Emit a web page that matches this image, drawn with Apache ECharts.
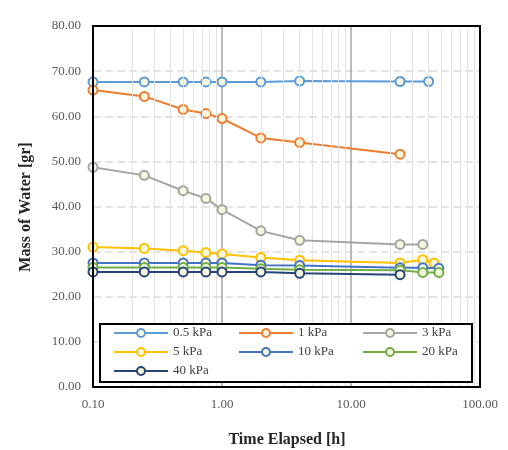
<!DOCTYPE html>
<html>
<head>
<meta charset="utf-8">
<script src="https://cdn.jsdelivr.net/npm/echarts@6/dist/echarts.min.js"></script>
<style>html,body{margin:0;padding:0;background:#fff;}#c{width:508px;height:450px;}</style>
</head>
<body>
<div id="c"></div>
<script>
// ---- data ----
const seriesNames = ['0.5 kPa', '1 kPa', '3 kPa', '5 kPa', '10 kPa', '20 kPa', '40 kPa'];
const t05 = [0.1, 0.25, 0.5, 0.75, 1, 2, 4, 24, 40];
const m05 = [67.6, 67.6, 67.6, 67.6, 67.6, 67.6, 67.8, 67.7, 67.7];
const t1 = [0.1, 0.25, 0.5, 0.75, 1, 2, 4, 24];
const m1 = [65.8, 64.4, 61.5, 60.6, 59.5, 55.2, 54.2, 51.6];
const t3 = [0.1, 0.25, 0.5, 0.75, 1, 2, 4, 24, 36];
const m3 = [48.7, 46.9, 43.5, 41.8, 39.3, 34.6, 32.5, 31.6, 31.6];
const t5 = [0.1, 0.25, 0.5, 0.75, 1, 2, 4, 24, 36, 44];
const m5 = [31.0, 30.7, 30.2, 29.8, 29.5, 28.7, 28.1, 27.5, 28.2, 27.5];
const t10 = [0.1, 0.25, 0.5, 0.75, 1, 2, 4, 24, 36, 48];
const m10 = [27.5, 27.5, 27.5, 27.5, 27.5, 27.0, 26.9, 26.4, 26.4, 26.3];
const t20 = [0.1, 0.25, 0.5, 0.75, 1, 2, 4, 24, 36, 48];
const m20 = [26.5, 26.5, 26.5, 26.5, 26.5, 26.2, 26.0, 25.9, 25.4, 25.4];
const t40 = [0.1, 0.25, 0.5, 0.75, 1, 2, 4, 24];
const m40 = [25.5, 25.5, 25.5, 25.5, 25.5, 25.5, 25.2, 24.9];
const minorGridX = [0.2, 0.3, 0.4, 0.5, 0.6, 0.7, 0.8, 0.9, 2, 3, 4, 5, 6, 7, 8, 9, 20, 30, 40, 50, 60, 70, 80, 90];
const xTitle = 'Time Elapsed [h]';
const yTitle = 'Mass of Water [gr]';

const times = [t05, t1, t3, t5, t10, t20, t40];
const masses = [m05, m1, m3, m5, m10, m20, m40];
const colors = ['#5B9BD5', '#ED7D31', '#A5A5A5', '#FFC000', '#4472C4', '#70AD47', '#264478'];

const serif = '"Liberation Serif", "Times New Roman", serif';
const chart = echarts.init(document.getElementById('c'), null, {renderer: 'canvas'});

const series = [{
  type: 'line', name: '_grid', data: [], z: 1, silent: true,
  markLine: {
    silent: true, symbol: ['none', 'none'], animation: false,
    label: {show: false},
    lineStyle: {color: '#E4E4E4', width: 1, type: 'solid'},
    emphasis: {disabled: true},
    data: minorGridX.map(v => ({xAxis: v}))
  }
}];
seriesNames.forEach((n, i) => {
  series.push({
    type: 'line', name: n, z: 3 + i,
    data: times[i].map((t, j) => [t, masses[i][j]]),
    symbol: 'circle', symbolSize: 9,
    lineStyle: {color: colors[i], width: 2},
    itemStyle: {color: '#F7F7DE', borderColor: colors[i], borderWidth: 2},
    emphasis: {disabled: true}
  });
});

const legendCommon = {
  orient: 'vertical', top: 326, itemGap: 5, itemWidth: 54, itemHeight: 10,
  padding: 0, z: 20, selectedMode: false,
  textStyle: {fontFamily: serif, fontSize: 13, color: '#404040', lineHeight: 14}
};

chart.setOption({
  animation: false,
  grid: {left: 93, right: 28, top: 26, bottom: 63, show: false},
  xAxis: {
    type: 'log', logBase: 10, min: 0.1, max: 100,
    axisLine: {show: false}, axisTick: {show: false},
    axisLabel: {fontFamily: serif, fontSize: 13, color: '#595959', margin: 11, formatter: v => Number(v).toFixed(2)},
    splitLine: {show: true, lineStyle: {color: '#A6A6A6', width: 1.5}},
    minorTick: {show: false}, minorSplitLine: {show: false}
  },
  yAxis: {
    type: 'value', min: 0, max: 80, interval: 10,
    axisLine: {show: false}, axisTick: {show: false},
    axisLabel: {fontFamily: serif, fontSize: 13, color: '#595959', margin: 12, formatter: v => v.toFixed(2)},
    splitLine: {show: true, lineStyle: {color: '#DCDCDC', width: 1.5, type: [8, 4]}}
  },
  legend: [
    Object.assign({left: 113, data: [seriesNames[0], seriesNames[3], seriesNames[6]]}, legendCommon),
    Object.assign({left: 238, data: [seriesNames[1], seriesNames[4]]}, legendCommon),
    Object.assign({left: 362, data: [seriesNames[2], seriesNames[5]]}, legendCommon)
  ],
  graphic: [
    {type: 'rect', z: 10, shape: {x: 100, y: 324, width: 372, height: 58}, style: {fill: '#fff', stroke: '#000', lineWidth: 2}},
    {type: 'rect', z: 15, silent: true, shape: {x: 93, y: 26, width: 387, height: 361}, style: {fill: 'none', stroke: '#000', lineWidth: 2}},
    {type: 'text', x: 287, y: 440, style: {text: xTitle, font: 'bold 16px ' + serif, fill: '#262626', textAlign: 'center', textVerticalAlign: 'middle'}},
    {type: 'text', x: 25.5, y: 207, rotation: Math.PI / 2, style: {text: yTitle, font: 'bold 16px ' + serif, fill: '#262626', textAlign: 'center', textVerticalAlign: 'middle'}}
  ],
  series: series
});
</script>
</body>
</html>
